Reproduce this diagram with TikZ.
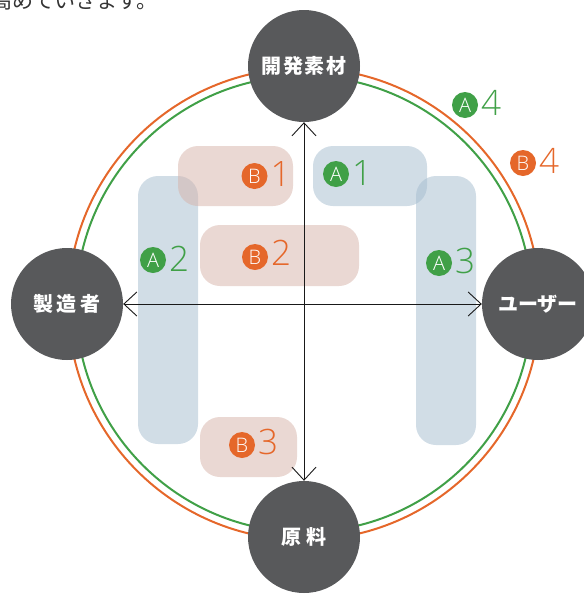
\documentclass[tikz,border=0pt]{standalone}
\usepackage{fontspec}
\usetikzlibrary{arrows.meta}
\setmainfont{Open Sans}
\newfontfamily\lightfont{Open Sans Light}
\newfontfamily\jp{Noto Sans CJK JP}
\definecolor{hubgray}{HTML}{58595B}
\definecolor{ora}{HTML}{E5672A}
\definecolor{gre}{HTML}{40A047}
\definecolor{bluebox}{HTML}{A3BBCE}
\definecolor{pinkbox}{HTML}{D6B1A7}
\definecolor{introtext}{HTML}{333333}
\begin{document}
\begin{tikzpicture}[x=1pt,y=-1pt,
  hub/.style={circle, fill=hubgray, minimum size=112pt, inner sep=0pt, text=white,
    font=\jp\bfseries\fontsize{20}{20}\selectfont},
  abox/.style={rectangle, fill=bluebox, fill opacity=0.5, rounded corners=20pt, inner sep=0pt},
  bbox/.style={rectangle, fill=pinkbox, fill opacity=0.5, rounded corners=20pt, inner sep=0pt},
  badge/.style={circle, fill=#1, text=white, minimum size=26pt, inner sep=0pt,
    font=\lightfont\fontsize{20}{20}\selectfont},
  digit/.style={text=#1, inner sep=0pt, anchor=base west, font=\lightfont\fontsize{35}{35}\selectfont},
  ring/.style={line width=2pt},
  axis/.style={line width=0.9pt, black!90, {Straight Barb[length=13pt,width=24pt]}-{Straight Barb[length=13pt,width=24pt]}}
]
\useasboundingbox (0,0) rectangle (584,595);
\clip (0,0) rectangle (584,595);

% intro text (cut off at top)
\node[anchor=base west, inner sep=0pt, text=introtext, font=\jp\fontsize{21}{21}\selectfont] (intro) at (-9,8) {高めていきます。};

% rings
\draw[ring, ora] (304,304) circle[radius=236pt];
\draw[ring, gre] (304,304) circle[radius=228pt];

% translucent boxes
\node[abox, minimum width=60pt, minimum height=268pt] (a2box) at (168,310) {};
\node[abox, minimum width=60pt, minimum height=269pt] (a3box) at (446,310.5) {};
\node[abox, minimum width=114pt, minimum height=60pt] (a1box) at (370,176) {};
\node[bbox, minimum width=115pt, minimum height=60pt] (b1box) at (235.5,176) {};
\node[bbox, minimum width=159pt, minimum height=61pt] (b2box) at (279.5,255.5) {};
\node[bbox, minimum width=97pt, minimum height=60pt] (b3box) at (248.5,447) {};

% hubs
\node[hub] (top) at (304,66) {開\hspace{1.5pt}発\hspace{1.5pt}素\hspace{1.5pt}材};
\node[hub] (bottom) at (304,537) {原\hspace{5pt}料};
\node[hub] (left) at (67,304) {製\hspace{3.5pt}造\hspace{3.5pt}者};
\node[hub] (right) at (538,304) {ユーザー};

% axes
\draw[axis] (left.east) -- (right.west);
\draw[axis] (top.south) -- (bottom.north);

% labels
\node[badge=gre] (a1) at (336,174) {A};
\node[digit=gre] (a1n) at ([shift={(16,11)}]a1.center) {1};
\node[badge=ora] (b1) at (254.5,176) {B};
\node[digit=ora] (b1n) at ([shift={(16,10)}]b1.center) {1};
\node[badge=gre] (a2) at (153,260) {A};
\node[digit=gre] (a2n) at ([shift={(16,11)}]a2.center) {2};
\node[badge=ora] (b2) at (255,257) {B};
\node[digit=ora] (b2n) at ([shift={(16,8)}]b2.center) {2};
\node[badge=gre] (a3) at (439,263) {A};
\node[digit=gre] (a3n) at ([shift={(16,10)}]a3.center) {3};
\node[badge=ora] (b3) at (242,445) {B};
\node[digit=ora] (b3n) at ([shift={(16,9)}]b3.center) {3};
\node[badge=gre] (a4) at (465,105) {A};
\node[digit=gre] (a4n) at ([shift={(16,10)}]a4.center) {4};
\node[badge=ora] (b4) at (523,163) {B};
\node[digit=ora] (b4n) at ([shift={(16,10)}]b4.center) {4};
\end{tikzpicture}
\end{document}
